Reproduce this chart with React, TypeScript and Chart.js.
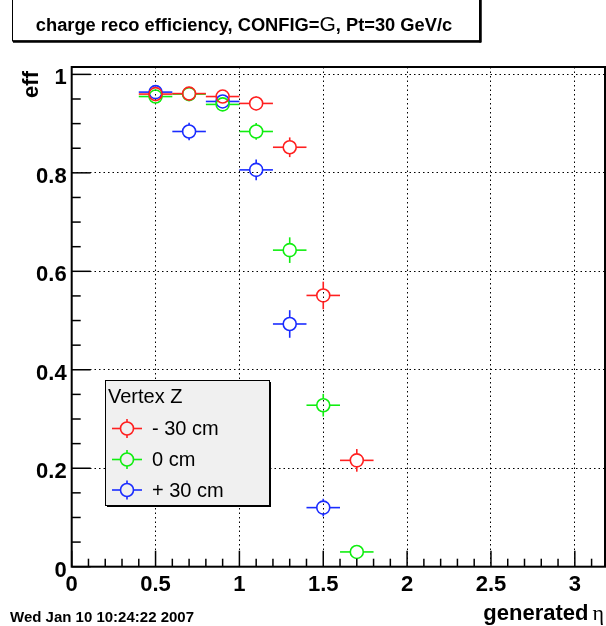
import React, { useEffect, useRef } from "react";
import { Chart, registerables } from "chart.js";

Chart.register(...registerables);

// ---- data ----
const etaBins = [0.5, 0.7, 0.9, 1.1, 1.3, 1.5, 1.7];
const etaHalfWidth = 0.1;

const effMinus30 = [0.960, 0.961, 0.955, 0.941, 0.852, 0.551, 0.216];
const errMinus30 = [0.010, 0.010, 0.011, 0.014, 0.020, 0.028, 0.023];

const effZero = [0.955, 0.960, 0.939, 0.884, 0.643, 0.328, 0.030];
const errZero = [0.010, 0.010, 0.012, 0.017, 0.026, 0.023, 0.012];

const effPlus30 = [0.964, 0.884, 0.945, 0.806, 0.493, 0.120];
const errPlus30 = [0.010, 0.018, 0.011, 0.021, 0.028, 0.018];

const seriesLabels = ["- 30 cm", "0 cm", "+ 30 cm"];
const seriesColors = ["#ff2020", "#10ee10", "#1a2cff"];
const legendTitle = "Vertex Z";

const xTickValues = [0, 0.5, 1, 1.5, 2, 2.5, 3];
const xTickLabels = ["0", "0.5", "1", "1.5", "2", "2.5", "3"];
const yTickValues = [0, 0.2, 0.4, 0.6, 0.8, 1];
const yTickLabels = ["0", "0.2", "0.4", "0.6", "0.8", "1"];

const titleBefore = "charge reco efficiency, CONFIG=";
const titleG = "G";
const titleAfter = ", Pt=30 GeV/c";
const yTitle = "eff";
const xTitleText = "generated";
const xTitleSymbol = "η";
const dateText = "Wed Jan 10 10:24:22 2007";

const SANS = "'Liberation Sans', Arial, Helvetica, sans-serif";
const SERIF = "'Liberation Serif', 'DejaVu Serif', serif";
const R = 6.5;

function line(ctx: CanvasRenderingContext2D, x1: number, y1: number, x2: number, y2: number) {
  ctx.beginPath();
  ctx.moveTo(x1, y1);
  ctx.lineTo(x2, y2);
  ctx.stroke();
}

const rootPlugin = {
  id: "rootStyle",
  afterDatasetDraw(chart: any, args: any) {
    const ds = chart.data.datasets[args.index];
    const xs = chart.scales.x;
    const ys = chart.scales.y;
    const ctx: CanvasRenderingContext2D = chart.ctx;
    ctx.save();
    ctx.strokeStyle = ds.borderColor;
    ctx.lineWidth = 1.6;
    ds.data.forEach((p: any, i: number) => {
      const px = xs.getPixelForValue(p.x);
      const py = ys.getPixelForValue(p.y);
      const xl = xs.getPixelForValue(p.x - etaHalfWidth);
      const xr = xs.getPixelForValue(p.x + etaHalfWidth);
      const yt = ys.getPixelForValue(p.y + ds.yErr[i]);
      const yb = ys.getPixelForValue(p.y - ds.yErr[i]);
      line(ctx, xl, py, px - R, py);
      line(ctx, px + R, py, xr, py);
      if (py - yt > R) line(ctx, px, yt, px, py - R);
      if (yb - py > R) line(ctx, px, py + R, px, yb);
    });
    ctx.restore();
  },
  afterDraw(chart: any) {
    const ctx: CanvasRenderingContext2D = chart.ctx;
    const { left, right, top, bottom } = chart.chartArea;
    const xs = chart.scales.x;
    const ys = chart.scales.y;
    ctx.save();
    ctx.strokeStyle = "#000";
    ctx.fillStyle = "#000";

    // ticks (inside)
    ctx.lineWidth = 1.5;
    for (let k = 0; k <= 20; k++) {
      const v = k * 0.05;
      const py = ys.getPixelForValue(v);
      const len = k % 4 === 0 ? 19 : 9;
      line(ctx, left, py, left + len, py);
    }
    for (let k = 0; k <= 31; k++) {
      const v = k * 0.1;
      const px = xs.getPixelForValue(v);
      const len = k % 5 === 0 ? 16 : 8;
      line(ctx, px, bottom, px, bottom - len);
    }

    // frame
    ctx.lineWidth = 2;
    ctx.strokeRect(left, top, right - left, bottom - top);

    // y title
    ctx.save();
    ctx.translate(38, 71);
    ctx.rotate(-Math.PI / 2);
    ctx.font = `bold 22px ${SANS}`;
    ctx.textAlign = "right";
    ctx.textBaseline = "alphabetic";
    ctx.fillText(yTitle, 0, 0);
    ctx.restore();

    // x title
    ctx.font = `22px ${SERIF}`;
    const symW = ctx.measureText(xTitleSymbol).width;
    ctx.textAlign = "right";
    ctx.textBaseline = "alphabetic";
    ctx.fillText(xTitleSymbol, 604, 620);
    ctx.font = `bold 22px ${SANS}`;
    ctx.fillText(xTitleText, 604 - symW - 4, 620);

    // date
    ctx.font = `bold 15px ${SANS}`;
    ctx.textAlign = "left";
    ctx.fillText(dateText, 10, 622);

    // title box
    ctx.fillStyle = "#fff";
    ctx.fillRect(12, -5, 468, 46);
    ctx.lineWidth = 1;
    ctx.strokeStyle = "#000";
    ctx.strokeRect(12.5, -5, 467, 46);
    ctx.lineWidth = 2.5;
    line(ctx, 13, 41.5, 481, 41.5);
    line(ctx, 480.5, -5, 480.5, 42.5);
    ctx.fillStyle = "#000";
    const fB = `bold 18.3px ${SANS}`;
    const fG = `21px ${SANS}`;
    ctx.font = fB;
    const w1 = ctx.measureText(titleBefore).width;
    const w3 = ctx.measureText(titleAfter).width;
    ctx.font = fG;
    const w2 = ctx.measureText(titleG).width;
    const total = w1 + w2 + w3;
    let tx = 244 - total / 2;
    const tb = 31;
    ctx.textAlign = "left";
    ctx.font = fB;
    ctx.fillText(titleBefore, tx, tb);
    tx += w1;
    ctx.font = fG;
    ctx.fillText(titleG, tx, tb);
    tx += w2;
    ctx.font = fB;
    ctx.fillText(titleAfter, tx, tb);

    // legend
    const lx = 105, ly = 380, lw = 164, lh = 125;
    ctx.fillStyle = "#f0f0f0";
    ctx.fillRect(lx, ly, lw, lh);
    ctx.strokeStyle = "#000";
    ctx.lineWidth = 1;
    ctx.strokeRect(lx + 0.5, ly + 0.5, lw, lh);
    ctx.lineWidth = 2;
    line(ctx, lx + 2, ly + lh + 1, lx + lw + 2, ly + lh + 1);
    line(ctx, lx + lw + 1, ly + 2, lx + lw + 1, ly + lh + 2);
    ctx.fillStyle = "#000";
    ctx.font = `20px ${SANS}`;
    ctx.textBaseline = "middle";
    ctx.fillText(legendTitle, 108, 397);
    const rowY = [428.5, 459.5, 490];
    seriesLabels.forEach((lab, i) => {
      const cy = rowY[i];
      const cx = 127;
      ctx.strokeStyle = seriesColors[i];
      ctx.lineWidth = 1.6;
      line(ctx, 112, cy, cx - R, cy);
      line(ctx, cx + R, cy, 142, cy);
      line(ctx, cx, cy - R - 3, cx, cy - R);
      line(ctx, cx, cy + R, cx, cy + R + 3);
      ctx.beginPath();
      ctx.arc(cx, cy, R, 0, Math.PI * 2);
      ctx.stroke();
      ctx.fillStyle = "#000";
      ctx.fillText(lab, 152, cy + 1);
    });
    ctx.restore();
  },
};

function makeSeries(label: string, color: string, eff: number[], err: number[]) {
  return {
    type: "scatter",
    label,
    data: eff.map((y, i) => ({ x: etaBins[i], y })),
    yErr: err,
    borderColor: color,
    backgroundColor: "rgba(0,0,0,0)",
    pointRadius: R,
    pointHoverRadius: R,
    pointBorderWidth: 1.6,
    pointBorderColor: color,
    pointBackgroundColor: "rgba(0,0,0,0)",
    showLine: false,
  };
}

export default function App() {
  const ref = useRef<HTMLCanvasElement | null>(null);
  useEffect(() => {
    if (!ref.current) return;
    const tickFont = { family: SANS, size: 22, weight: "bold" as const };
    const chart = new Chart(ref.current, {
      type: "scatter",
      data: {
        datasets: [
          makeSeries(seriesLabels[0], seriesColors[0], effMinus30, errMinus30),
          makeSeries(seriesLabels[1], seriesColors[1], effZero, errZero),
          makeSeries(seriesLabels[2], seriesColors[2], effPlus30, errPlus30),
        ] as any,
      },
      options: {
        responsive: false,
        animation: false,
        devicePixelRatio: 1,
        layout: { autoPadding: false, padding: { top: 67, right: 1, left: 0, bottom: 0 } },
        plugins: {
          legend: { display: false },
          tooltip: { enabled: false },
          title: { display: false },
        },
        events: [],
        scales: {
          x: {
            type: "linear",
            min: 0,
            max: 3.18,
            afterBuildTicks: (s: any) => {
              s.ticks = xTickValues.map((v) => ({ value: v }));
            },
            afterFit: (s: any) => {
              s.height = 59.3;
              s.paddingLeft = 0;
              s.paddingRight = 0;
            },
            ticks: {
              callback: (_v: any, i: number) => xTickLabels[i],
              font: tickFont,
              color: "#000",
              padding: 5,
              maxRotation: 0,
              autoSkip: false,
            },
            grid: { color: "#000", lineWidth: 1, drawTicks: false },
            border: { display: false, dash: [1.5, 3] },
          },
          y: {
            type: "linear",
            min: 0,
            max: 1.015,
            afterBuildTicks: (s: any) => {
              s.ticks = yTickValues.map((v) => ({ value: v }));
            },
            afterFit: (s: any) => {
              s.width = 71.7;
              s.paddingTop = 0;
              s.paddingBottom = 0;
            },
            ticks: {
              callback: (_v: any, i: number) => yTickLabels[i],
              font: tickFont,
              color: "#000",
              padding: 5,
              labelOffset: 4,
              autoSkip: false,
            },
            grid: { color: "#000", lineWidth: 1, drawTicks: false },
            border: { display: false, dash: [1.5, 3] },
          },
        },
      } as any,
      plugins: [rootPlugin],
    });
    return () => chart.destroy();
  }, []);
  return (
    <canvas
      ref={ref}
      width={606}
      height={626}
      style={{ position: "absolute", left: 0, top: 0, width: 606, height: 626 }}
    />
  );
}
